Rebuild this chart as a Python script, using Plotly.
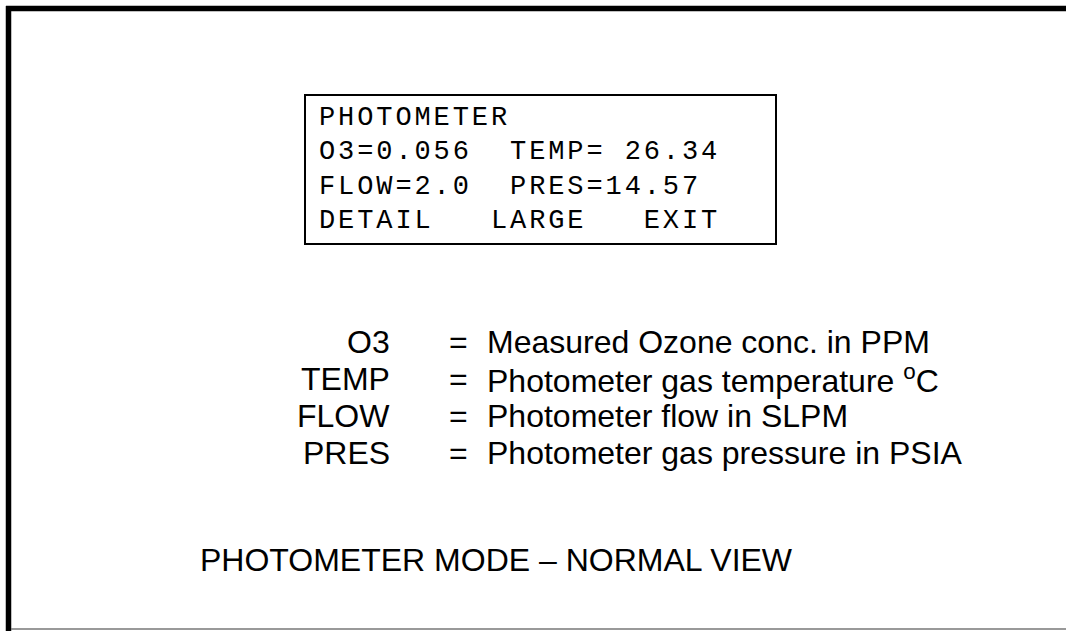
import plotly.graph_objects as go

W, H = 1066, 631

# ---- content (text of the display screen and the legend) ----
display_lines = [
    "PHOTOMETER",
    "O3=0.056  TEMP= 26.34",
    "FLOW=2.0  PRES=14.57",
    "DETAIL   LARGE   EXIT",
]
param_names = ["O3", "TEMP", "FLOW", "PRES"]
param_descriptions = [
    "Measured Ozone conc. in PPM",
    "Photometer gas temperature <sup>o</sup>C",
    "Photometer flow in SLPM",
    "Photometer gas pressure in PSIA",
]
footer_text = "PHOTOMETER MODE \u2013 NORMAL VIEW"

# ---- layout / style ----
MONO = "Liberation Mono, Courier New, monospace"
SANS = "Liberation Sans, Arial, Helvetica, sans-serif"
mono_size = 27
mono_spacing = 2.9
mono_x = 317
mono_y = [117.5, 152, 186.5, 220.5]

sans_size = 32
row_y = [342, 378.5, 415.5, 452.5]
name_right_x = 392
eq_x = 447
desc_x = 484.5

annotations = []
for txt, y in zip(display_lines, mono_y):
    t = txt.replace(" ", "\u00a0")
    annotations.append(dict(
        x=mono_x, y=y, xref="x", yref="y", showarrow=False,
        xanchor="left", yanchor="middle",
        text=f'<span style="letter-spacing:{mono_spacing}px">{t}</span>',
        font=dict(family=MONO, size=mono_size, color="#000000"),
    ))

for name, desc, y in zip(param_names, param_descriptions, row_y):
    annotations.append(dict(
        x=name_right_x, y=y, xref="x", yref="y", showarrow=False,
        xanchor="right", yanchor="middle", text=name,
        font=dict(family=SANS, size=sans_size, color="#000000"),
    ))
    annotations.append(dict(
        x=eq_x, y=y, xref="x", yref="y", showarrow=False,
        xanchor="left", yanchor="middle", text="=",
        font=dict(family=SANS, size=sans_size, color="#000000"),
    ))
    annotations.append(dict(
        x=desc_x, y=y, xref="x", yref="y", showarrow=False,
        xanchor="left", yanchor="middle", text=desc,
        font=dict(family=SANS, size=sans_size, color="#000000"),
    ))

annotations.append(dict(
    x=197.5, y=559.5, xref="x", yref="y", showarrow=False,
    xanchor="left", yanchor="middle", text=footer_text,
    font=dict(family=SANS, size=sans_size, color="#000000"),
))

shapes = [
    # outer frame: thick top and left edges, thin bottom edge
    dict(type="line", xref="x", yref="y", x0=6, x1=W, y0=8.5, y1=8.5,
         line=dict(color="#000000", width=5.5)),
    dict(type="line", xref="x", yref="y", x0=8.5, x1=8.5, y0=6, y1=H,
         line=dict(color="#000000", width=5.5)),
    dict(type="line", xref="x", yref="y", x0=11, x1=W, y0=629, y1=629,
         line=dict(color="#777777", width=1.5)),
    # display screen box
    dict(type="rect", xref="x", yref="y", x0=305, x1=776, y0=95, y1=244,
         line=dict(color="#000000", width=2), fillcolor="rgba(0,0,0,0)"),
]

fig = go.Figure()
fig.update_layout(
    width=W, height=H,
    margin=dict(l=0, r=0, t=0, b=0),
    paper_bgcolor="#ffffff", plot_bgcolor="#ffffff",
    xaxis=dict(range=[0, W], visible=False, fixedrange=True),
    yaxis=dict(range=[H, 0], visible=False, fixedrange=True),
    annotations=annotations,
    shapes=shapes,
    showlegend=False,
)
fig.write_html(
    "out.html",
    config={"displayModeBar": False},
    post_script="document.body.style.margin='0';document.body.style.overflow='hidden';",
)
